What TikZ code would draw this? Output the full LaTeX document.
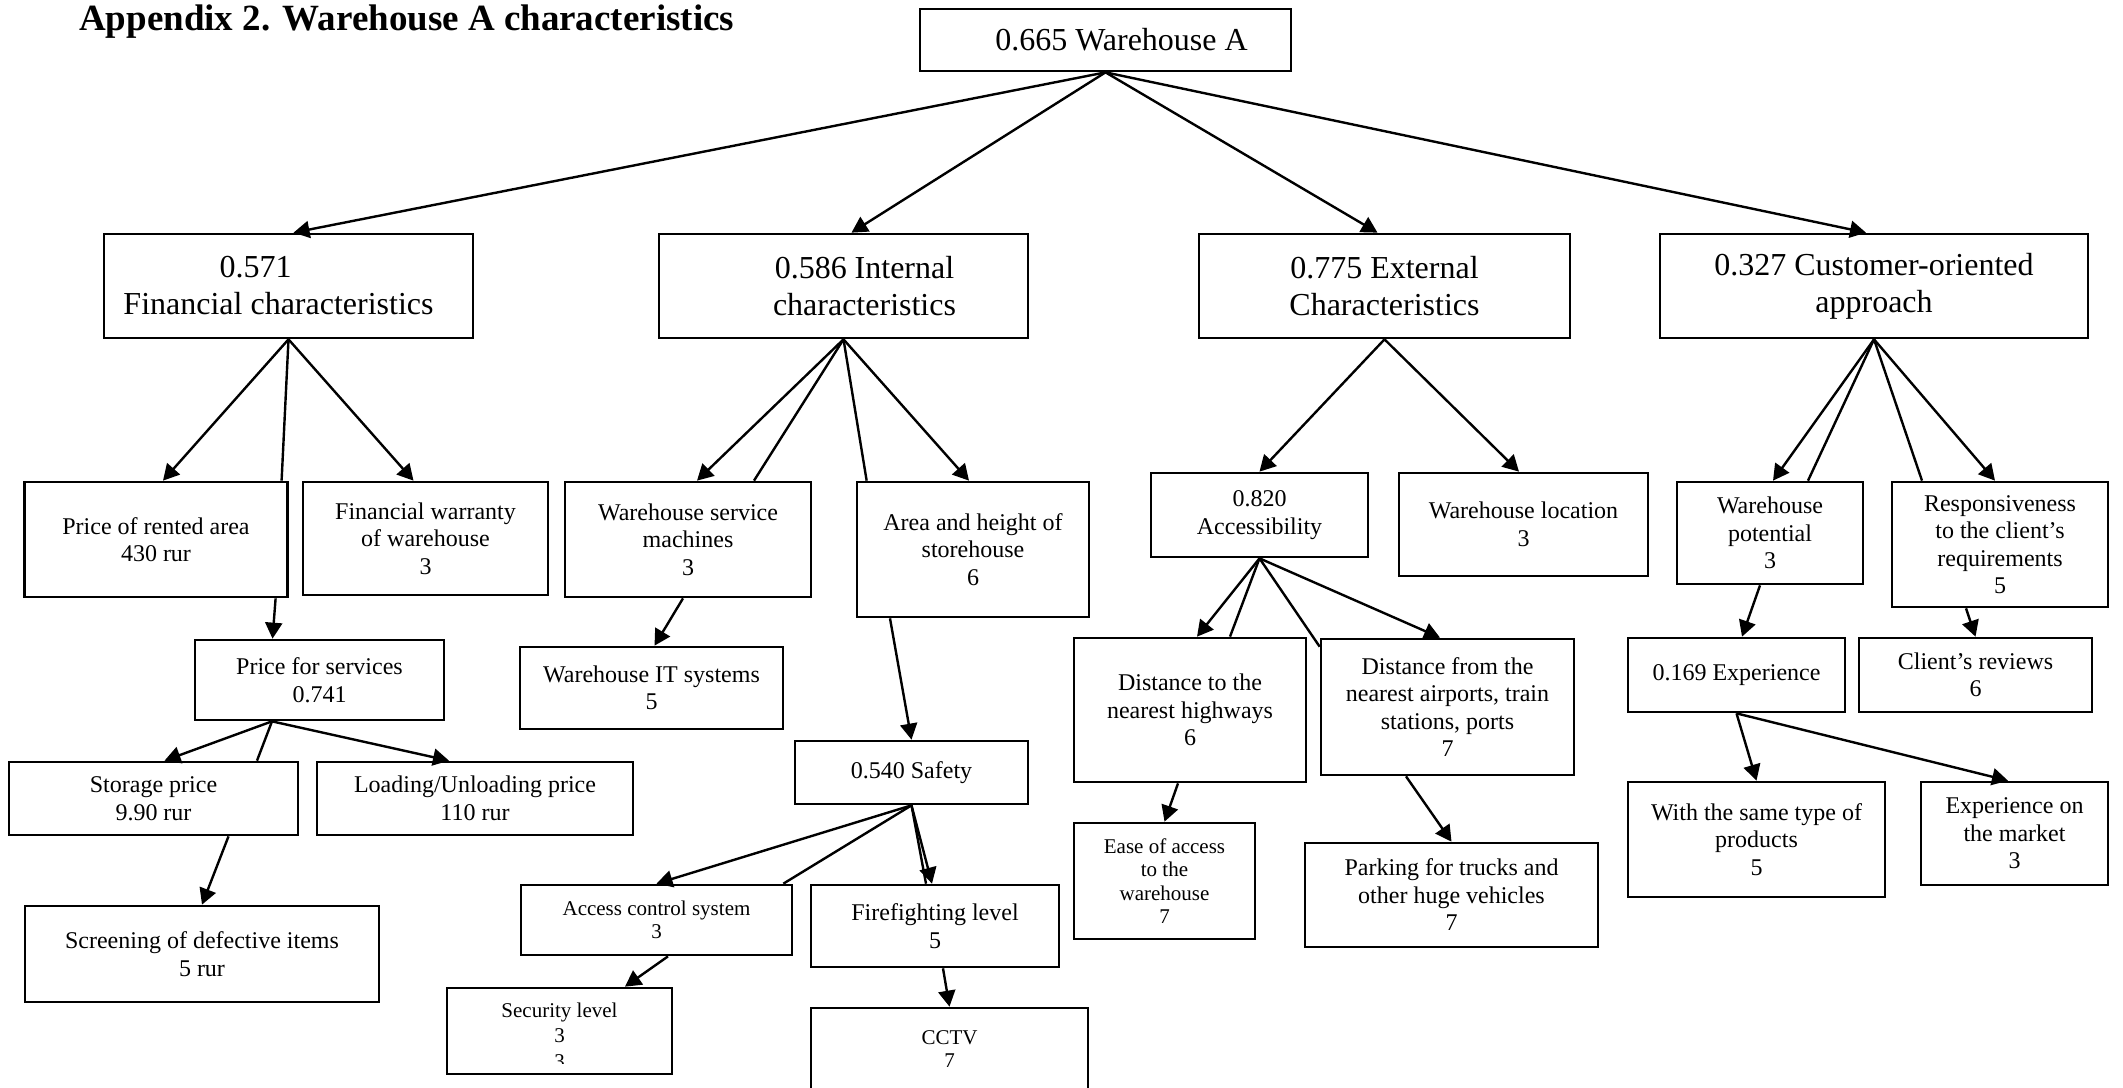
\documentclass[tikz,border=0pt]{standalone}
\usepackage{fontspec}
\setmainfont{Liberation Serif}
\usetikzlibrary{arrows.meta}
\begin{document}
\begin{tikzpicture}[x=1pt,y=-1pt,
  box/.style={draw, line width=2.7pt, inner sep=0pt, align=center,
              font=\fontsize{24}{27.5}\selectfont},
  big/.style={font=\fontsize{32}{37}\selectfont},
  small/.style={font=\fontsize{21}{23.5}\selectfont},
  link/.style={line width=2.4pt},
  arr/.style={link, -{Triangle[length=16pt,width=17pt]}}]
\useasboundingbox (0,0) rectangle (2123,1087);
\clip (0,0) rectangle (2123,1087);
\fill[white] (0,0) rectangle (2123,1087);

% heading
\node[anchor=base west, inner sep=0pt, font=\fontsize{37}{44}\selectfont\bfseries]
  (title) at (79,30) {Appendix 2. Warehouse A characteristics};

% root and first level
\node[box,big,minimum width=371,minimum height=62] (root) at (1105.5,40) {\kern32pt 0.665 Warehouse A};
\node[box,big,minimum width=369,minimum height=104] (fin) at (288.5,286) {0.571\kern66pt\\Financial characteristics\kern20pt};
\node[box,big,minimum width=369,minimum height=104] (int) at (843.5,286) {\kern42pt 0.586 Internal\\\kern42pt characteristics};
\node[box,big,minimum width=371,minimum height=104] (ext) at (1384.5,286) {0.775 External\\Characteristics};
\node[box,big,minimum width=428,minimum height=104] (cus) at (1874,286) {0.327 Customer-oriented\\approach};

% financial branch
\node[box,minimum width=262.5,minimum height=115] (rent) at (156,539.5) {Price of rented area\\430 rur};
\node[box,minimum width=245,minimum height=113] (warr) at (425.5,538.5) {Financial warranty\\of warehouse\\3};
\node[box,minimum width=249,minimum height=80] (svc) at (319.5,680) {Price for services\\0.741};
\node[box,minimum width=289,minimum height=73] (stor) at (153.5,798.5) {Storage price\\9.90 rur};
\node[box,minimum width=316,minimum height=73] (load) at (475,798.5) {Loading/Unloading price\\110 rur};
\node[box,minimum width=354,minimum height=96] (scr) at (202,954) {Screening of defective items\\5 rur};

% internal branch
\node[box,minimum width=246,minimum height=115] (mach) at (688,539.5) {Warehouse service\\machines\\3};
\node[box,minimum width=232,minimum height=135] (area) at (973,549.5) {Area and height of\\storehouse\\6};
\node[box,minimum width=263,minimum height=82] (it) at (651.5,688) {Warehouse IT systems\\5};
\node[box,minimum width=233,minimum height=63] (saf) at (911.5,772.5) {0.540 Safety};
\node[box,small,minimum width=271,minimum height=70] (acs) at (656.5,920) {Access control system\\3};
\node[box,minimum width=248,minimum height=82] (fire) at (935,926) {Firefighting level\\5};
\node[box,small,minimum width=225,minimum height=86] (sec) at (559.5,1031) {};
\node[box,small,minimum width=277,minimum height=82] (cctv) at (949.5,1049) {CCTV\\7};
% the last line of this box runs past its lower edge and is cut off
\begin{scope}
  \clip (sec.north west) rectangle ([yshift=12pt]sec.south east);
  \node[inner sep=0pt, align=center, anchor=north, font=\fontsize{21}{25.5}\selectfont]
    (sectext) at ([yshift=-16pt]sec.north) {Security level\\3\\3};
\end{scope}

% external branch
\node[box,minimum width=217,minimum height=84] (acc) at (1259.5,515) {0.820\\Accessibility};
\node[box,minimum width=249,minimum height=103] (loc) at (1523.5,524.5) {Warehouse location\\3};
\node[box,minimum width=232,minimum height=144] (hwy) at (1190,710) {Distance to the\\nearest highways\\6};
\node[box,minimum width=253,minimum height=136] (air) at (1447.5,707) {Distance from the\\nearest airports, train\\stations, ports\\7};
\node[box,small,minimum width=181,minimum height=116] (ease) at (1164.5,881) {Ease of access\\to the\\warehouse\\7};
\node[box,minimum width=293,minimum height=104] (park) at (1451.5,895) {Parking for trucks and\\other huge vehicles\\7};

% customer branch
\node[box,minimum width=186,minimum height=102] (pot) at (1770,533) {Warehouse\\potential\\3};
\node[box,minimum width=216,minimum height=125] (resp) at (2000,544.5) {Responsiveness\\to the client’s\\requirements\\5};
\node[box,minimum width=217,minimum height=74] (exp) at (1736.5,675) {0.169 Experience};
\node[box,minimum width=233,minimum height=74] (rev) at (1975.5,675) {Client’s reviews\\6};
\node[box,minimum width=257,minimum height=115] (same) at (1756.5,839.5) {With the same type of\\products\\5};
\node[box,minimum width=187,minimum height=103] (mkt) at (2014.5,833.5) {Experience on\\the market\\3};

% connectors from the root
\draw[arr] (root.south) -- ([xshift=5]fin.north);
\draw[arr] (root.south) -- ([xshift=8]int.north);
\draw[arr] (root.south) -- ([xshift=-7]ext.north);
\draw[arr] (root.south) -- ([xshift=-8]cus.north);

% financial connectors
\draw[arr] (fin.south) -- ([xshift=7]rent.north);
\draw[link] (fin.south) -- ([xshift=-7]rent.north east);
\draw[arr] (fin.south) -- ([xshift=-12]warr.north);
\draw[arr] ([xshift=-13]rent.south east) -- ([xshift=-47]svc.north);
\coordinate (svcout) at ([xshift=-47.5]svc.south);
\draw[arr] (svcout) -- ([xshift=11]stor.north);
\draw[link] (svcout) -- ([xshift=103.5]stor.north);
\draw[arr] (svcout) -- ([xshift=-26]load.north);
\draw[arr] ([xshift=75]stor.south) -- (scr.north);

% internal connectors
\draw[arr] (int.south) -- ([xshift=9]mach.north);
\draw[link] (int.south) -- ([xshift=66]mach.north);
\draw[link] (int.south) -- ([xshift=11]area.north west);
\draw[arr] (int.south) -- ([xshift=-4]area.north);
\draw[arr] ([xshift=-5]mach.south) -- ([xshift=3]it.north);
\draw[arr] ([xshift=-83]area.south) -- (saf.north);
\draw[arr] (saf.south) -- (acs.north);
\draw[link] (saf.south) -- ([xshift=-10]acs.north east);
\draw[link] (saf.south) -- ([xshift=-9]fire.north);
\draw[arr] (saf.south) -- ([xshift=-3]fire.north);
\draw[arr] ([xshift=11.5]acs.south) -- ([xshift=65.5]sec.north);
\draw[arr] ([xshift=8]fire.south) -- (cctv.north);

% external connectors
\draw[arr] (ext.south) -- (acc.north);
\draw[arr] (ext.south) -- ([xshift=-4.5]loc.north);
\draw[arr] (acc.south) -- ([xshift=7]hwy.north);
\draw[link] (acc.south) -- ([xshift=40]hwy.north);
\draw[link] (acc.south) -- ([yshift=-9pt]air.north west);
\draw[arr] (acc.south) -- ([xshift=-7.5]air.north);
\draw[arr] ([xshift=-12]hwy.south) -- (ease.north);
\draw[arr] ([xshift=-41.5]air.south) -- (park.north);

% customer connectors
\draw[arr] (cus.south) -- ([xshift=3]pot.north);
\draw[link] (cus.south) -- ([xshift=38]pot.north);
\draw[link] (cus.south) -- ([xshift=-78]resp.north);
\draw[arr] (cus.south) -- ([xshift=-5]resp.north);
\draw[arr] ([xshift=-10]pot.south) -- ([xshift=5.5]exp.north);
\draw[arr] ([xshift=-34]resp.south) -- (rev.north);
\draw[arr] (exp.south) -- (same.north);
\draw[arr] (exp.south) -- ([xshift=-6.5]mkt.north);
\end{tikzpicture}
\end{document}
